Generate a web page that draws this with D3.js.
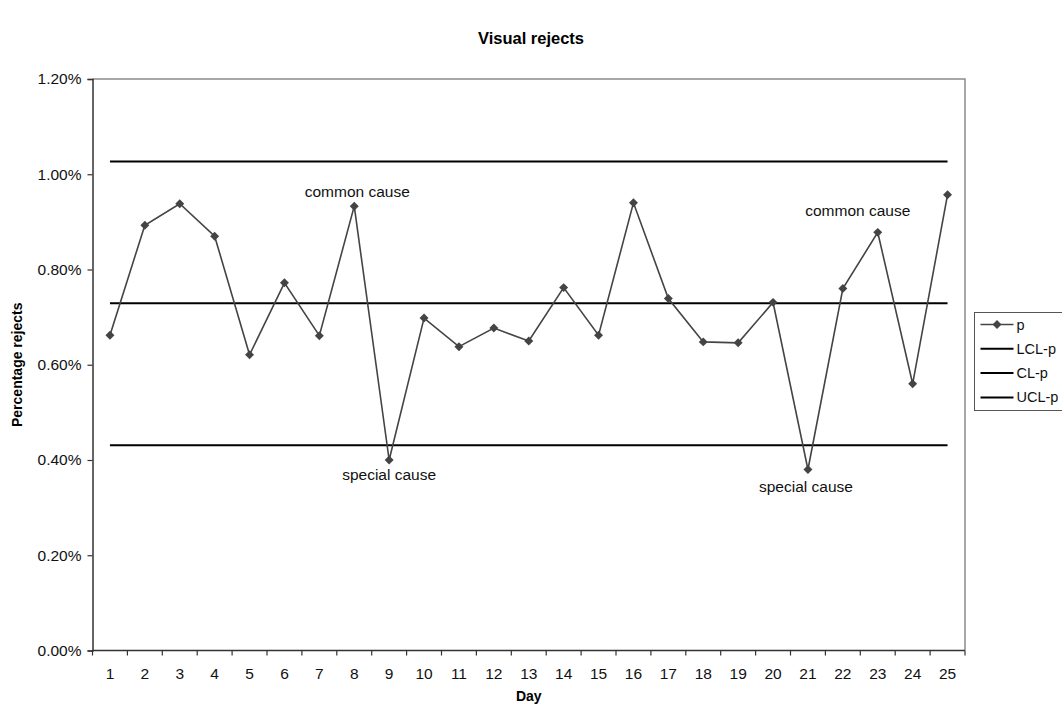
<!DOCTYPE html>
<html>
<head>
<meta charset="utf-8">
<script src="https://cdn.jsdelivr.net/npm/d3@7/dist/d3.min.js"></script>
<style>
  html, body { margin: 0; padding: 0; background: #fff; }
  svg { display: block; font-family: "Liberation Sans", Arial, sans-serif; }
</style>
</head>
<body>
<svg id="chart" width="1062" height="708"></svg>
<script>
// Daily proportion of visual rejects (%), with p-chart control limits
const days = d3.range(1, 26).map(String);
const pValues = [0.662, 0.893, 0.938, 0.870, 0.621, 0.772, 0.661, 0.933, 0.400, 0.698,
                 0.638, 0.677, 0.650, 0.762, 0.662, 0.940, 0.739, 0.648, 0.646, 0.731,
                 0.380, 0.760, 0.878, 0.560, 0.957];
const lclValue = 0.431;
const clValue = 0.729;
const uclValue = 1.027;
const yTicks = [0, 0.2, 0.4, 0.6, 0.8, 1.0, 1.2];
const annotationDays = ["8", "9", "23", "21"];
const annotationTexts = ["common cause", "special cause", "common cause", "special cause"];
const legendItems = ["p", "LCL-p", "CL-p", "UCL-p"];

// label placement relative to its point (dx, dy in px)
const annotationOffsets = [[3, -9], [0, 20], [-20, -16], [-2, 22]];

const svg = d3.select("#chart");
const plot = { left: 92.5, right: 965, top: 79, bottom: 650.5 };

const x = d3.scaleBand().domain(days).range([plot.left, plot.right]).padding(0);
const y = d3.scaleLinear().domain([0, 1.2]).range([plot.bottom, plot.top]);
const cx = d => x(d) + x.bandwidth() / 2;

// plot area frame (top and right edges)
svg.append("path")
  .attr("d", `M${plot.left},${plot.top}H${plot.right}V${plot.bottom}`)
  .attr("fill", "none").attr("stroke", "#8c8c8c").attr("stroke-width", 1.5);

// y axis
const yAxis = svg.append("g")
  .attr("transform", `translate(${plot.left},0)`)
  .call(d3.axisLeft(y).tickValues(yTicks).tickSize(5).tickPadding(6)
    .tickFormat(d => d.toFixed(2) + "%"));
yAxis.select(".domain").attr("stroke", "#333").attr("stroke-width", 1.5);
yAxis.selectAll(".tick line").attr("stroke", "#333").attr("stroke-width", 1.2);
yAxis.selectAll(".tick text").attr("fill", "#111").style("font-size", "15.5px")
  .style("font-family", "Liberation Sans, Arial, sans-serif");

// x axis: ticks fall on category boundaries, labels at centres
const xAxisG = svg.append("g").attr("transform", `translate(0,${plot.bottom})`);
xAxisG.append("line")
  .attr("x1", plot.left).attr("x2", plot.right)
  .attr("stroke", "#333").attr("stroke-width", 1.5);
const boundaries = days.map(d => x(d)).concat([x(days[days.length - 1]) + x.bandwidth()]);
xAxisG.selectAll("line.tick").data(boundaries).join("line")
  .attr("class", "tick")
  .attr("x1", d => d).attr("x2", d => d).attr("y1", 0).attr("y2", 5)
  .attr("stroke", "#333").attr("stroke-width", 1.2);
xAxisG.selectAll("text").data(days).join("text")
  .attr("x", d => cx(d)).attr("y", 28)
  .attr("text-anchor", "middle").attr("fill", "#111")
  .style("font-size", "15.5px")
  .text(d => d);

// control limit lines
const limits = [lclValue, clValue, uclValue];
svg.selectAll("line.limit").data(limits).join("line")
  .attr("class", "limit")
  .attr("x1", cx(days[0])).attr("x2", cx(days[days.length - 1]))
  .attr("y1", d => y(d)).attr("y2", d => y(d))
  .attr("stroke", "#000").attr("stroke-width", 2);

// p series
const line = d3.line().x((d, i) => cx(days[i])).y(d => y(d));
svg.append("path").datum(pValues)
  .attr("d", line).attr("fill", "none")
  .attr("stroke", "#444").attr("stroke-width", 1.6);
const diamond = d3.symbol().type(d3.symbolSquare).size(40);
svg.selectAll("path.pt").data(pValues).join("path")
  .attr("class", "pt")
  .attr("d", diamond)
  .attr("transform", (d, i) => `translate(${cx(days[i])},${y(d)}) rotate(45)`)
  .attr("fill", "#444");

// annotations
annotationDays.forEach((day, k) => {
  const i = days.indexOf(day);
  const [dx, dy] = annotationOffsets[k];
  svg.append("text")
    .attr("x", cx(day) + dx)
    .attr("y", y(pValues[i]) + dy)
    .attr("text-anchor", "middle")
    .attr("fill", "#111")
    .style("font-size", "15.5px")
    .text(annotationTexts[k]);
});

// titles
svg.append("text")
  .attr("x", 531).attr("y", 44)
  .attr("text-anchor", "middle").attr("font-weight", "bold")
  .style("font-size", "16.5px").attr("fill", "#000")
  .text("Visual rejects");
svg.append("text")
  .attr("x", (plot.left + plot.right) / 2).attr("y", 701)
  .attr("text-anchor", "middle").attr("font-weight", "bold")
  .style("font-size", "14px").attr("fill", "#000")
  .text("Day");
svg.append("text")
  .attr("transform", `translate(22,${(plot.top + plot.bottom) / 2}) rotate(-90)`)
  .attr("text-anchor", "middle").attr("font-weight", "bold")
  .style("font-size", "14px").attr("fill", "#000")
  .text("Percentage rejects");

// legend
const lg = svg.append("g").attr("transform", "translate(974.5,312.5)");
lg.append("rect")
  .attr("width", 100).attr("height", 98)
  .attr("fill", "#fff").attr("stroke", "#555").attr("stroke-width", 1);
legendItems.forEach((name, i) => {
  const yy = 12 + i * 24.3;
  lg.append("line")
    .attr("x1", 6).attr("x2", 39).attr("y1", yy).attr("y2", yy)
    .attr("stroke", i === 0 ? "#444" : "#000")
    .attr("stroke-width", i === 0 ? 1.6 : 2);
  if (i === 0) {
    lg.append("path").attr("d", diamond)
      .attr("transform", `translate(22.5,${yy}) rotate(45)`)
      .attr("fill", "#444");
  }
  lg.append("text")
    .attr("x", 42).attr("y", yy + 5)
    .attr("fill", "#111").style("font-size", "14.5px")
    .text(name);
});
</script>
</body>
</html>
